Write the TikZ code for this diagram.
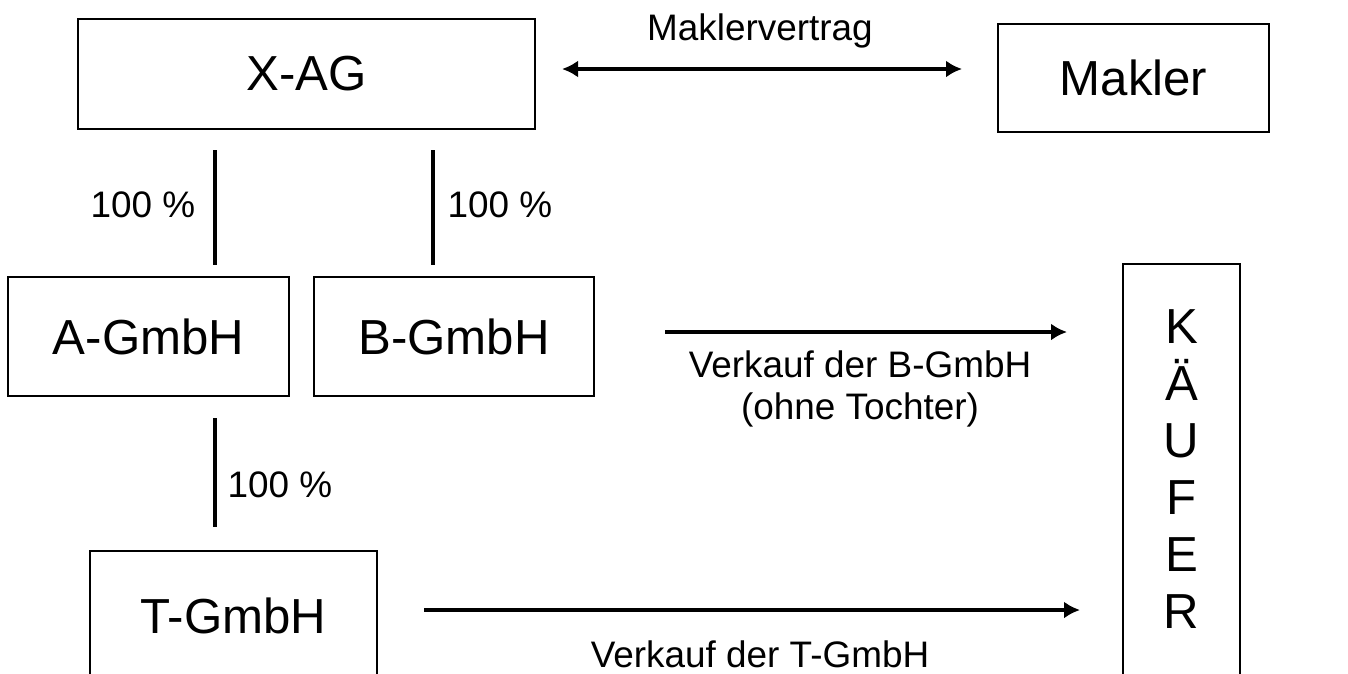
\documentclass[tikz,border=0pt]{standalone}
\usepackage{fontspec}
\setmainfont{Liberation Sans}
\usetikzlibrary{arrows.meta,positioning}
\tikzset{
    firma/.style={draw=black, line width=1.6pt, inner sep=0pt,
        font=\fontsize{28}{32.4}\selectfont},
    anteil/.style={draw=black, line width=2.4pt},
    vertrag/.style={draw=black, line width=2.8pt,
        -{Latex[length=0.32cm,width=0.34cm]}},
    beschriftung/.style={inner sep=0pt, align=center,
        font=\fontsize{21}{23.4}\selectfont}
}

\begin{document}
\begin{tikzpicture}[x=0.02cm,y=-0.02cm]
    \useasboundingbox (0,0) rectangle (1348,673);
    \clip (0,0) rectangle (1348,673);

    % Gesellschaften
    \node[firma, minimum width=9.14cm, minimum height=2.2cm] (xag) at (306.5,74) {X-AG};
    \node[firma, minimum width=5.42cm, minimum height=2.16cm] (makler) at (1133.5,78) {Makler};
    \node[firma, minimum width=5.62cm, minimum height=2.38cm] (agmbh) at (148.5,336.5) {A-GmbH};
    \node[firma, minimum width=5.6cm, minimum height=2.38cm] (bgmbh) at (454,336.5) {B-GmbH};
    \node[firma, minimum width=5.74cm, minimum height=2.6cm] (tgmbh) at (233.5,616) {T-GmbH};
    \node[firma, minimum width=2.34cm, minimum height=8.8cm] (kaeufer) at (1181.5,484) {};
    \node[firma, draw=none, align=center] (kaeuferText) at (1181.5,469) {K\\Ä\\U\\F\\E\\R};

    % Beteiligungen
    \coordinate (xagLinks) at (215,150);
    \coordinate (agmbhOben) at (215,265);
    \coordinate (xagRechts) at (433,150);
    \coordinate (bgmbhOben) at (433,265);
    \coordinate (agmbhUnten) at (215,418);
    \coordinate (tgmbhOben) at (215,527);
    \draw[anteil] (xagLinks) -- (agmbhOben);
    \draw[anteil] (xagRechts) -- (bgmbhOben);
    \draw[anteil] (agmbhUnten) -- (tgmbhOben);
    \node[beschriftung] (anteilA) at (143,205) {100 \%};
    \node[beschriftung] (anteilB) at (500,205) {100 \%};
    \node[beschriftung] (anteilT) at (280,485) {100 \%};

    % Vertraege
    \coordinate (vertragLinks) at (562,69);
    \coordinate (vertragRechts) at (962,69);
    \draw[vertrag, {Latex[length=0.32cm,width=0.34cm]}-{Latex[length=0.32cm,width=0.34cm]}]
        (vertragLinks) -- (vertragRechts);
    \node[beschriftung] (maklervertrag) at (760,31) {Maklervertrag};

    \coordinate (verkaufBStart) at (665,332);
    \coordinate (verkaufBEnde) at (1067,332);
    \draw[vertrag] (verkaufBStart) -- (verkaufBEnde);
    \node[beschriftung] (verkaufB) at (860,389) {Verkauf der B-GmbH\\(ohne Tochter)};

    \coordinate (verkaufTStart) at (424,610);
    \coordinate (verkaufTEnde) at (1080,610);
    \draw[vertrag] (verkaufTStart) -- (verkaufTEnde);
    \node[beschriftung] (verkaufT) at (760,654) {Verkauf der T-GmbH};
\end{tikzpicture}
\end{document}
